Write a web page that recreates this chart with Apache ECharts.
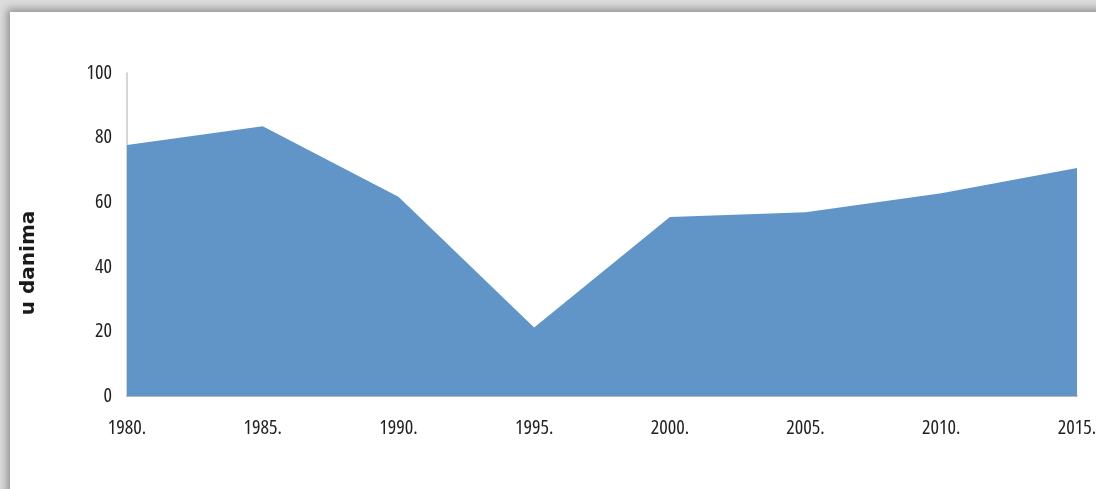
<!DOCTYPE html>
<html>
<head>
<meta charset="utf-8">
<script src="https://cdn.jsdelivr.net/npm/echarts@6/dist/echarts.min.js"></script>
<style>
  html, body { margin: 0; padding: 0; width: 1096px; height: 489px; overflow: hidden; background: #dcdcdc; }
  #frame { position: absolute; left: 10px; top: 12px; width: 1100px; height: 490px; background: #fff;
           box-shadow: -3px -3px 8px rgba(0,0,0,0.35); }
  #chart { position: absolute; left: 0; top: 0; width: 1096px; height: 489px; }
</style>
</head>
<body>
<div id="frame"></div>
<div id="chart"></div>
<script>
const categories = ['1980.', '1985.', '1990.', '1995.', '2000.', '2005.', '2010.', '2015.'];
const values = [77.7, 83.5, 61.7, 21.2, 55.4, 56.9, 62.8, 70.6];
const yTicks = { min: 0, max: 100, interval: 20 };
const yName = 'u danima';

const chart = echarts.init(document.getElementById('chart'), null, { renderer: 'canvas' });
const labelFont = '"Open Sans", sans-serif';
chart.setOption({
  backgroundColor: 'transparent',
  animation: false,
  grid: { left: 127, right: 19, top: 73, bottom: 93, outerBoundsMode: 'none', containLabel: false },
  graphic: [{
    type: 'text',
    x: 29, y: 263,
    rotation: Math.PI / 2,
    style: {
      text: yName,
      fill: '#1a1a1a',
      font: 'bold 20px "DejaVu Sans", sans-serif',
      align: 'center',
      verticalAlign: 'middle'
    }
  }],
  xAxis: {
    type: 'category',
    data: categories,
    boundaryGap: false,
    axisLine: { lineStyle: { color: '#a0a0a0', width: 1.5 } },
    axisTick: { show: false },
    axisLabel: { color: '#222', fontFamily: labelFont, fontWeight: 'condensed', fontSize: 20, margin: 22, interval: 0 },
    splitLine: { show: false }
  },
  yAxis: {
    type: 'value',
    min: yTicks.min, max: yTicks.max, interval: yTicks.interval,
    axisLine: { show: true, lineStyle: { color: '#c8c8c8', width: 1.5 } },
    axisTick: { show: false },
    axisLabel: { color: '#222', fontFamily: labelFont, fontWeight: 'condensed', fontSize: 20, margin: 15, padding: [4, 0, 0, 0] },
    splitLine: { show: false }
  },
  series: [{
    type: 'line',
    data: values,
    symbol: 'none',
    lineStyle: { width: 0 },
    areaStyle: { color: '#6195c8', opacity: 1 },
    itemStyle: { color: '#6195c8' }
  }]
});
</script>
</body>
</html>
